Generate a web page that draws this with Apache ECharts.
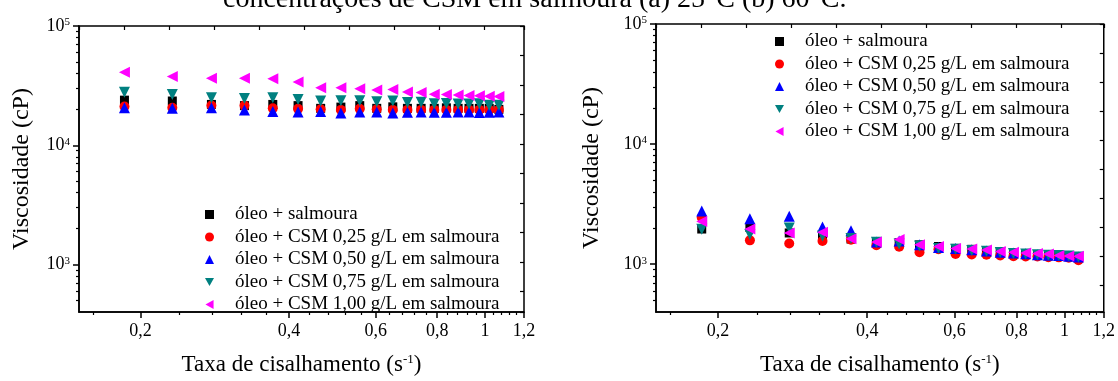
<!DOCTYPE html>
<html>
<head>
<meta charset="utf-8">
<script src="https://cdn.jsdelivr.net/npm/echarts@6/dist/echarts.min.js"></script>
<style>
  html, body { margin: 0; padding: 0; background: #fff; }
  #chart { width: 1118px; height: 381px; }
</style>
</head>
<body>
<div id="chart"></div>
<script>
// taxa de cisalhamento (s-1)
var shearRate = [0.1855, 0.232, 0.2785, 0.325, 0.371, 0.4175, 0.464, 0.51, 0.557, 0.603,
                 0.65, 0.696, 0.742, 0.789, 0.835, 0.882, 0.928, 0.974, 1.02, 1.067];

var seriesNames = ['óleo + salmoura', 'óleo + CSM 0,25 g/L em salmoura', 'óleo + CSM 0,50 g/L em salmoura',
                   'óleo + CSM 0,75 g/L em salmoura', 'óleo + CSM 1,00 g/L em salmoura'];

// (a) 25 °C
var visc25Base = [23900, 23500, 22000, 21500, 22000, 21500, 20400, 20900, 21500, 20400,
                  21000, 20400, 20400, 20400, 20600, 20400, 20400, 20400, 20400, 20000];
var visc25C025 = [21100, 20600, 21500, 21500, 20400, 20200, 20000, 19800, 20200, 20000,
                  19800, 19800, 19800, 19800, 19800, 19800, 19800, 19800, 19800, 19800];
var visc25C050 = [20600, 20400, 20600, 19800, 19200, 19000, 19200, 18600, 19000, 19000,
                  18600, 18900, 19000, 18900, 18900, 19000, 19000, 18800, 18900, 19000];
var visc25C075 = [27800, 26600, 25000, 24700, 25000, 24200, 23500, 23600, 23600, 23200,
                  23500, 22800, 22900, 22300, 22400, 22200, 22200, 22300, 21700, 21700];
var visc25C100 = [40900, 37700, 36500, 36500, 36200, 33900, 30400, 30400, 29800, 29100,
                  29300, 28000, 27700, 26800, 26600, 26400, 26100, 26000, 25800, 25600];

// (b) 60 °C
var visc60Base = [1963, 2025, 1820, 1733, 1620, 1530, 1513, 1449, 1405, 1354,
                  1330, 1300, 1260, 1240, 1220, 1204, 1190, 1182, 1170, 1130];
var visc60C025 = [2454, 1580, 1486, 1561, 1600, 1439, 1397, 1256, 1330, 1218,
                  1204, 1200, 1182, 1166, 1160, 1160, 1145, 1140, 1130, 1077];
var visc60C050 = [2777, 2392, 2512, 2036, 1901, 1532, 1560, 1449, 1380, 1354,
                  1320, 1290, 1260, 1240, 1220, 1200, 1190, 1180, 1165, 1150];
var visc60C075 = [1950, 1766, 2000, 1720, 1640, 1520, 1470, 1420, 1354, 1330,
                  1300, 1280, 1250, 1230, 1215, 1200, 1190, 1180, 1170, 1150];
var visc60C100 = [2265, 1963, 1820, 1845, 1630, 1532, 1608, 1449, 1405, 1354,
                  1336, 1311, 1273, 1256, 1240, 1230, 1218, 1182, 1170, 1166];

// ticks
var xMajorTicks = [0.2, 0.4, 0.6, 0.8, 1.0, 1.2];
var xMinorTicks = [0.16, 0.24, 0.28, 0.32, 0.36, 0.44, 0.48, 0.52, 0.56, 0.64, 0.68, 0.72, 0.76,
                   0.84, 0.88, 0.92, 0.96, 1.04, 1.08, 1.12, 1.16];
var yMajorTicks = [1000, 10000, 100000];
var yMinorTicks = [500, 600, 700, 800, 900, 2000, 3000, 4000, 5000, 6000, 7000, 8000, 9000,
                   20000, 30000, 40000, 50000, 60000, 70000, 80000, 90000];

var FONT = "'Liberation Serif', 'Times New Roman', serif";
var colors = ['#000000', '#ff0000', '#0000ff', '#008080', '#ff00ff'];
var symbols = ['rect', 'circle', 'triangle', 'path://M0,0 L10,0 L5,9 Z', 'path://M9,0 L9,10 L0,5 Z'];
var sizes = [9, 10, 11, 11, 11];

var myChart = echarts.init(document.getElementById('chart'));

function pair(ys) {
    var out = [];
    for (var i = 0; i < shearRate.length; i++) out.push([shearRate[i], ys[i]]);
    return out;
}

var grids = [
    { left: 79, top: 26, width: 445, height: 291 },
    { left: 656, top: 24, width: 448, height: 298 }
];

var xAxes = [], yAxes = [];
grids.forEach(function (g, gi) {
    // eixo x principal (log)
    xAxes.push({
        type: 'log', gridIndex: gi, min: 0.15, max: 1.2, position: 'bottom',
        name: 'Taxa de cisalhamento {s|(s}{sup|-1}{s|)}', nameLocation: 'middle', nameGap: 41,
        nameTextStyle: {
            fontFamily: FONT, fontSize: 23, color: '#000',
            rich: {
                s: { fontFamily: FONT, fontSize: 23, color: '#000' },
                sup: { fontFamily: FONT, fontSize: 13, color: '#000', verticalAlign: 'top', lineHeight: 12 }
            }
        },
        axisLine: { show: true, onZero: false, lineStyle: { color: '#000', width: 1.5 } },
        axisTick: { show: true, inside: false, length: 6, customValues: xMajorTicks, lineStyle: { color: '#000', width: 1.5 } },
        axisLabel: {
            show: true, customValues: xMajorTicks, margin: 10, fontFamily: FONT, fontSize: 18, color: '#000',
            formatter: function (v) { return String(+v.toFixed(2)).replace('.', ','); }
        },
        splitLine: { show: false }
    });
    // ticks menores
    xAxes.push({
        type: 'log', gridIndex: gi, min: 0.15, max: 1.2, position: 'bottom',
        axisLine: { show: false, onZero: false },
        axisTick: { show: true, length: 3, customValues: xMinorTicks, lineStyle: { color: '#000', width: 1.2 } },
        axisLabel: { show: false },
        splitLine: { show: false }
    });
    // eixo de cima (ticks lineares)
    xAxes.push({
        type: 'value', gridIndex: gi, position: 'top', min: 0, max: g.width / 45, interval: 1,
        axisLine: { show: false, onZero: false },
        axisTick: { show: true, inside: true, length: 4, lineStyle: { color: '#000', width: 1.2 } },
        axisLabel: { show: false },
        splitLine: { show: false }
    });

    yAxes.push({
        type: 'log', gridIndex: gi, min: 400, max: 100000, position: 'left',
        name: 'Viscosidade (cP)', nameLocation: 'middle', nameGap: gi === 0 ? 45 : 52, nameRotate: 90,
        nameTextStyle: { fontFamily: FONT, fontSize: 24, color: '#000' },
        axisLine: { show: true, onZero: false, lineStyle: { color: '#000', width: 1.5 } },
        axisTick: { show: true, length: 6, customValues: yMajorTicks, lineStyle: { color: '#000', width: 1.5 } },
        axisLabel: {
            show: true, customValues: yMajorTicks, margin: 9,
            formatter: function (v) { return '{b|10}{e|' + Math.round(Math.log(v) / Math.LN10) + '}'; },
            rich: {
                b: { fontFamily: FONT, fontSize: 18, color: '#000' },
                e: { fontFamily: FONT, fontSize: 11, color: '#000', verticalAlign: 'top', lineHeight: 10 }
            }
        },
        splitLine: { show: false }
    });
    yAxes.push({
        type: 'log', gridIndex: gi, min: 400, max: 100000, position: 'left',
        axisLine: { show: false, onZero: false },
        axisTick: { show: true, length: 3, customValues: yMinorTicks, lineStyle: { color: '#000', width: 1.2 } },
        axisLabel: { show: false },
        splitLine: { show: false }
    });
    // eixo da direita (ticks lineares)
    yAxes.push({
        type: 'value', gridIndex: gi, position: 'right', inverse: true, min: 0, max: g.height / 30, interval: 1,
        axisLine: { show: false, onZero: false },
        axisTick: { show: true, inside: true, length: 4, lineStyle: { color: '#000', width: 1.2 } },
        axisLabel: { show: false },
        splitLine: { show: false }
    });
});

var panels = [
    [visc25Base, visc25C025, visc25C050, visc25C075, visc25C100],
    [visc60Base, visc60C025, visc60C050, visc60C075, visc60C100]
];

var series = [];
panels.forEach(function (panel, gi) {
    panel.forEach(function (ys, k) {
        series.push({
            name: seriesNames[k],
            type: 'scatter',
            xAxisIndex: gi * 3,
            yAxisIndex: gi * 3,
            symbol: symbols[k],
            symbolSize: sizes[k],
            itemStyle: { color: colors[k], opacity: 1 },
            z: 2 + k,
            data: pair(ys)
        });
    });
});

var legendBase = {
    orient: 'vertical',
    itemWidth: 9, itemHeight: 9,
    itemGap: 3.5,
    data: seriesNames,
    selectedMode: false,
    textStyle: { fontFamily: FONT, fontSize: 19, color: '#000', lineHeight: 18, padding: [0, 0, 0, 16] }
};

var option = {
    backgroundColor: '#fff',
    animation: false,
    grid: grids.map(function (g) {
        return { left: g.left, top: g.top, width: g.width, height: g.height, show: true,
                 borderColor: '#000', borderWidth: 1.5, backgroundColor: 'transparent' };
    }),
    legend: [
        echarts.util.merge({ left: 200, top: 200 }, legendBase),
        echarts.util.merge({ left: 770, top: 27 }, legendBase)
    ],
    xAxis: xAxes,
    yAxis: yAxes,
    graphic: [{
        type: 'text',
        left: 223, top: -14,
        style: {
            text: 'concentrações de CSM em salmoura (a) 25°C (b) 60°C.',
            font: "28px 'Liberation Serif', 'Times New Roman', serif",
            fill: '#000'
        }
    }],
    series: series
};

myChart.setOption(option);
</script>
</body>
</html>
